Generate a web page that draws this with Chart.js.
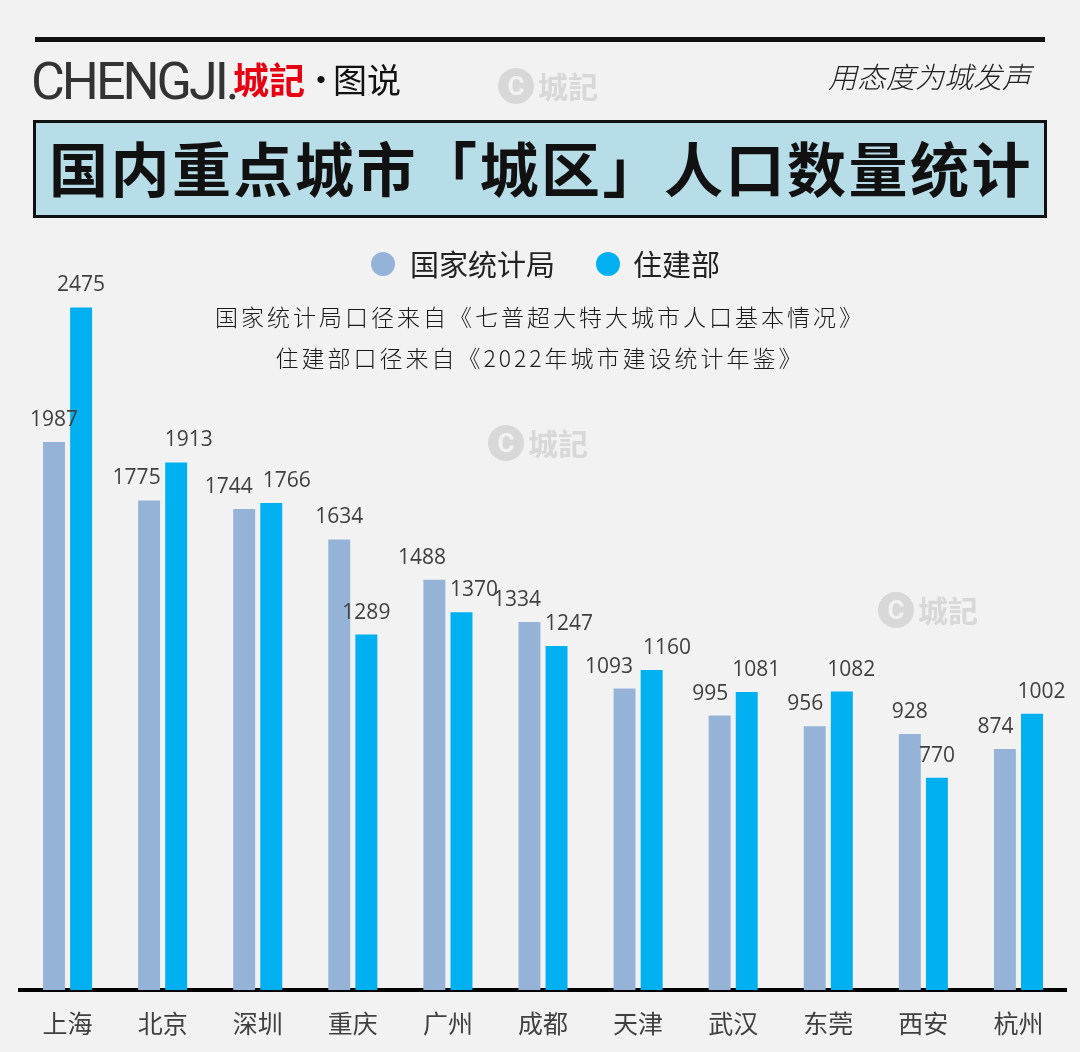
<!DOCTYPE html>
<html>
<head>
<meta charset="utf-8">
<script src="https://cdn.jsdelivr.net/npm/chart.js@4.4.1/dist/chart.umd.min.js"></script>
<style>
html,body{margin:0;padding:0;background:#f2f2f2;}
#page{position:relative;width:1080px;height:1052px;overflow:hidden;background:#f2f2f2;font-family:"Noto Sans CJK SC",sans-serif;}
#chart{position:absolute;left:0;top:0;}
.abs{position:absolute;white-space:nowrap;}
#topline{left:35px;top:37px;width:1010px;height:5px;background:#111;}
#logoEn{left:31px;top:56px;font-family:Roboto,sans-serif;font-size:52px;line-height:52px;letter-spacing:-3px;color:#333;}
#logoCn{left:233px;top:60px;font-size:36px;line-height:36px;font-weight:700;color:#e60012;}
#logoDot{left:304px;top:62px;font-size:34px;line-height:34px;color:#111;}
#logoTu{left:333px;top:62px;font-size:34px;line-height:34px;color:#111;}
#slogan{left:828px;top:61px;font-size:29px;line-height:29px;font-style:italic;font-weight:300;color:#222;}
#titleBox{left:33px;top:120px;width:1014px;height:98px;box-sizing:border-box;border:3px solid #111;background:#b7dde8;}
#titleText{left:0;top:14px;width:1010px;text-align:center;font-size:59px;line-height:59px;letter-spacing:2.5px;font-weight:700;color:#111;}
#legend{left:0;top:249px;width:1080px;height:32px;}
.lg-item{position:absolute;top:0;font-size:29px;line-height:29px;color:#222;white-space:nowrap;}
.lg-dot{position:absolute;width:24px;height:24px;border-radius:50%;}
.sub{left:0;width:1080px;text-align:center;font-size:23px;line-height:23px;letter-spacing:3px;font-weight:300;color:#1a1a1a;}
.wm{position:absolute;width:104px;height:38px;white-space:nowrap;}
.wm .c{position:absolute;left:0;top:1px;width:36px;height:36px;border-radius:50%;background:#d8d8d8;color:#f2f2f2;font-family:Roboto,sans-serif;font-weight:700;font-size:26px;line-height:36px;text-align:center;}
.wm .t{position:absolute;left:40px;top:0;font-size:30px;line-height:36px;font-weight:700;color:#d8d8d8;white-space:nowrap;}
</style>
</head>
<body>
<div id="page">
  <canvas id="chart" width="1080" height="1052"></canvas>
  <div class="abs" id="topline"></div>
  <div class="abs" id="logoEn">CHENGJI.</div>
  <div class="abs" id="logoCn">城記</div>
  <div class="abs" id="logoDot">·</div>
  <div class="abs" id="logoTu">图说</div>
  <div class="abs" id="slogan">用态度为城发声</div>
  <div class="abs" id="titleBox"><div class="abs" id="titleText">国内重点城市「城区」人口数量统计</div></div>
  <div class="abs" id="legend"></div>
  <div class="abs sub" style="top:305px;">国家统计局口径来自《七普超大特大城市人口基本情况》</div>
  <div class="abs sub" style="top:346px;">住建部口径来自《2022年城市建设统计年鉴》</div>
  <div class="wm" style="left:498px;top:67px;"><div class="c">C</div><div class="t">城記</div></div>
  <div class="wm" style="left:488px;top:424px;"><div class="c">C</div><div class="t">城記</div></div>
  <div class="wm" style="left:878px;top:591px;"><div class="c">C</div><div class="t">城記</div></div>
</div>
<script>
const categories = ['上海','北京','深圳','重庆','广州','成都','天津','武汉','东莞','西安','杭州'];
const nbsValues = [1987,1775,1744,1634,1488,1334,1093,995,956,928,874];
const mohurdValues = [2475,1913,1766,1289,1370,1247,1160,1081,1082,770,1002];
const seriesNames = ['国家统计局','住建部'];
const seriesColors = ['#95b3d7','#00b0f0'];

// HTML legend built from series names/colors
(function(){
  const lg = document.getElementById('legend');
  const lefts = [[371,410],[596,633]];
  seriesNames.forEach((n,i)=>{
    const d = document.createElement('div');
    d.className='lg-dot'; d.style.background=seriesColors[i];
    d.style.left=lefts[i][0]+'px'; d.style.top='3px';
    lg.appendChild(d);
    const t = document.createElement('div');
    t.className='lg-item'; t.textContent=n; t.style.left=lefts[i][1]+'px';
    lg.appendChild(t);
  });
})();

const labelPlugin = {
  id:'barLabels',
  afterDatasetsDraw(chart){
    const ctx = chart.ctx;
    ctx.save();
    ctx.font = '21px "Open Sans", sans-serif';
    ctx.fillStyle = '#404040';
    ctx.textAlign='center';
    ctx.textBaseline='middle';
    const metas = [chart.getDatasetMeta(0), chart.getDatasetMeta(1)];
    const lift = 22, h = 40;
    categories.forEach((c,i)=>{
      const items = metas.map((m,d)=>{
        const el = m.data[i];
        const text = String(chart.data.datasets[d].data[i]);
        return {x: el.x, y: el.y - lift, w: ctx.measureText(text).width, text};
      });
      const a = items[0], b = items[1];
      const dy = Math.abs(a.y-b.y);
      if (dy < h) {
        const gap = dy < 20 ? 10 : 4;
        const need = (a.w+b.w)/2 + gap - (b.x - a.x);
        if (need>0){ a.x -= need/2; b.x += need/2; }
      }
      items.forEach(it=> ctx.fillText(it.text, it.x, it.y));
    });
    ctx.restore();
  }
};

new Chart(document.getElementById('chart'), {
  type:'bar',
  data:{
    labels: categories,
    datasets:[
      {label:seriesNames[0], data:nbsValues, backgroundColor:seriesColors[0], barPercentage:0.81, categoryPercentage:0.57},
      {label:seriesNames[1], data:mohurdValues, backgroundColor:seriesColors[1], barPercentage:0.81, categoryPercentage:0.57}
    ]
  },
  options:{
    responsive:false,
    animation:false,
    devicePixelRatio:1,
    layout:{padding:{top:273, bottom:0, left:20, right:14}},
    plugins:{legend:{display:false}, tooltip:{enabled:false}},
    scales:{
      y:{display:false, min:0, max:2600},
      x:{
        z:1,
        grid:{display:false, drawTicks:false},
        border:{display:true, color:'#000', width:4},
        ticks:{padding:18, color:'#404040', font:{family:'"Noto Sans CJK SC"', size:25}},
        afterFit(s){ s.height = 62; }
      }
    }
  },
  plugins:[labelPlugin]
});
</script>
</body>
</html>
